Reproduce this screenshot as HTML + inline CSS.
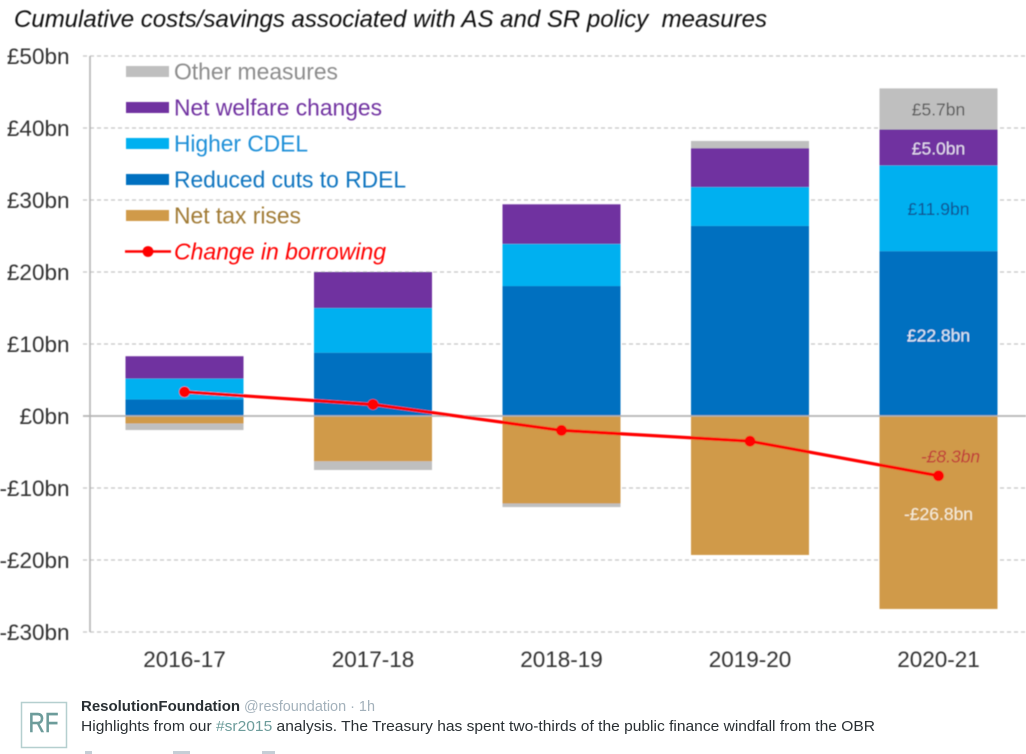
<!DOCTYPE html>
<html lang="en">
<head>
<meta charset="utf-8">
<title>Cumulative costs/savings chart</title>
<style>
html,body{margin:0;padding:0;background:#fff;width:1026px;height:754px;overflow:hidden}
svg{display:block;position:absolute;left:0;top:0;font-family:"Liberation Sans",sans-serif}
</style>
</head>
<body>
<svg id="chart" width="1026" height="754" viewBox="0 0 1026 754">
  <defs><filter id="soft" x="-2%" y="-2%" width="104%" height="104%"><feGaussianBlur stdDeviation="0.4"/></filter></defs>
  <text x="14" y="27" font-size="24" font-style="italic" fill="#111" textLength="753" lengthAdjust="spacingAndGlyphs" xml:space="preserve" filter="url(#soft)">Cumulative costs/savings associated with AS and SR policy  measures</text>
  <g id="plot" filter="url(#soft)"></g>
  <g>
    <rect x="21.5" y="702.5" width="45" height="45" fill="#fff" stroke="#b5cfcf" stroke-width="1.5"/>
    <text x="43.5" y="732" font-size="28" fill="#6d9c9b" stroke="#6d9c9b" stroke-width="0.5" text-anchor="middle" textLength="30" lengthAdjust="spacingAndGlyphs">RF</text>
    <text x="81" y="711" font-size="15" font-weight="bold" fill="#292f33" textLength="159" lengthAdjust="spacingAndGlyphs">ResolutionFoundation</text>
    <text x="244" y="711" font-size="15" fill="#a3b1bb" textLength="131" lengthAdjust="spacingAndGlyphs">@resfoundation · 1h</text>
    <text x="81" y="731" font-size="15" fill="#292f33" textLength="794" lengthAdjust="spacingAndGlyphs">Highlights from our <tspan fill="#6d9c9b">#sr2015</tspan> analysis. The Treasury has spent two-thirds of the public finance windfall from the OBR</text>
    <rect x="85" y="751" width="7" height="3" fill="#c5ced6"/>
    <rect x="173" y="751" width="17" height="3" fill="#c5ced6"/>
    <rect x="262" y="751" width="13" height="3" fill="#c5ced6"/>
  </g>
</svg>
<script>
const categories = ["2016-17", "2017-18", "2018-19", "2019-20", "2020-21"];
const rdel = [2.3, 8.8, 18.05, 26.4, 22.9];
const cdel = [2.9, 6.2, 5.85, 5.4, 11.9];
const welfare = [3.1, 5.0, 5.5, 5.4, 5.0];
const otherPositive = [0, 0, 0, 1.0, 5.7];
const tax = [-1.05, -6.3, -12.15, -19.3, -26.8];
const otherNegative = [-0.9, -1.2, -0.5, 0, 0];
const borrowing = [3.35, 1.6, -2.0, -3.5, -8.3];
const yTicks = [50, 40, 30, 20, 10, 0, -10, -20, -30];
const yTickLabels = ["£50bn", "£40bn", "£30bn", "£20bn", "£10bn", "£0bn", "-£10bn", "-£20bn", "-£30bn"];
const legendLabels = ["Other measures", "Net welfare changes", "Higher CDEL", "Reduced cuts to RDEL", "Net tax rises", "Change in borrowing"];

const NS = "http://www.w3.org/2000/svg";
const plot = document.getElementById("plot");
const yScale = v => 416 - v * 7.2;
const xScale = i => 184.5 + i * 188.5;
const BAR_W = 118;

function make(tag, attrs, text) {
  const el = document.createElementNS(NS, tag);
  for (const k in attrs) el.setAttribute(k, attrs[k]);
  if (text !== undefined) el.textContent = text;
  plot.appendChild(el);
  return el;
}

yTicks.forEach((t, i) => {
  const zero = t === 0;
  const line = make("line", {x1: 83, x2: 1026, y1: yScale(t), y2: yScale(t), stroke: zero ? "#b4b4b4" : "#c4c4c4", "stroke-width": zero ? 1.6 : 1.2, "stroke-dasharray": zero ? "none" : "4 3"});
  
  
  const label = make("text", {x: 69.5, y: yScale(t) + 8, "font-size": 22.5, fill: "#333", "text-anchor": "end"}, yTickLabels[i]);
  
  
});

const axis = make("line", {x1: 90, x2: 90, y1: yScale(50), y2: yScale(-30), stroke: "#b4b4b4", "stroke-width": 1.6});



const positiveStacks = [[rdel, "#0070c0", "rdel"], [cdel, "#00b0f0", "cdel"], [welfare, "#7030a0", "welfare"], [otherPositive, "#bfbfbf", "other"]];
const negativeStacks = [[tax, "#d09a48", "tax"], [otherNegative, "#bfbfbf", "other-negative"]];

function drawStack(stacks) {
  categories.forEach((c, i) => {
    let base = 0;
    stacks.forEach(s => {
      const v = s[0][i];
      if (!v) return;
      const a = yScale(base), b = yScale(base + v);
      const r = make("rect", {x: xScale(i) - BAR_W / 2, y: Math.min(a, b), width: BAR_W, height: Math.abs(a - b), fill: s[1]});
      
      
      base += v;
    });
  });
}
drawStack(positiveStacks);
drawStack(negativeStacks);

const zeroOverlay = make("line", {x1: 83, x2: 1026, y1: yScale(0), y2: yScale(0), stroke: "#b4b4b4", "stroke-width": 1.4});



categories.forEach((c, i) => {
  const t = make("text", {x: xScale(i), y: 667, "font-size": 22.5, fill: "#333", "text-anchor": "middle"}, c);
  
  
});

const last = categories.length - 1;
const fmt = v => (v < 0 ? "-" : "") + "£" + Math.abs(v).toFixed(1) + "bn";
function valueLabel(value, mid, fill, italic, dx) {
  const t = make("text", {x: xScale(last) + (dx || 0), y: yScale(mid) + 6, "font-size": 17.5, fill: fill, "text-anchor": "middle"}, fmt(value));
  if (italic) t.setAttribute("font-style", "italic");
  
  
}
const r5 = rdel[last], c5 = cdel[last], w5 = welfare[last], o5 = otherPositive[last];
valueLabel(r5 - 0.1, r5 / 2 - 0.25, "#dfeaf5");
valueLabel(c5, r5 + c5 / 2 - 0.1, "#0b4f8f");
valueLabel(w5, r5 + c5 + w5 / 2 - 0.15, "#e6dcef");
valueLabel(o5, r5 + c5 + w5 + o5 / 2 - 0.05, "#595959");
valueLabel(tax[last], tax[last] / 2 - 0.2, "#f7eeda");
valueLabel(borrowing[last], borrowing[last] + 2.65, "#c0393b", true, 12);

const path = borrowing.map((v, i) => (i ? "L" : "M") + xScale(i) + " " + yScale(v)).join(" ");
const line = make("path", {d: path, fill: "none", stroke: "#ff0000", "stroke-width": 3.2});


borrowing.forEach((v, i) => {
  const p = make("circle", {cx: xScale(i), cy: yScale(v), r: 5.4, fill: "#ff0000"});
  
  
});

const legendColors = ["#bfbfbf", "#7030a0", "#00b0f0", "#0070c0", "#d09a48", "#ff0000"];
const legendText = ["#8c8c8c", "#7030a0", "#1f8fd8", "#1075c0", "#a07a35", "#ff0000"];
const legendWidths = [164, 208, 134, 232, 127, 212];
legendLabels.forEach((name, i) => {
  const cy = 71.5 + i * 36;
  if (i < 5) {
    const s = make("rect", {x: 126, y: cy - 5.5, width: 43, height: 11, fill: legendColors[i]});
    
    
  } else {
    const l = make("line", {x1: 125, x2: 171, y1: cy, y2: cy, stroke: "#ff0000", "stroke-width": 2.6});
    
    
    const d = make("circle", {cx: 148, cy: cy, r: 5.4, fill: "#ff0000"});
    
    
  }
  const t = make("text", {x: 174, y: cy + 8, "font-size": 23, fill: legendText[i], textLength: legendWidths[i], lengthAdjust: "spacingAndGlyphs"}, name);
  if (i === 5) t.setAttribute("font-style", "italic");
  
  
});
</script>
</body>
</html>
